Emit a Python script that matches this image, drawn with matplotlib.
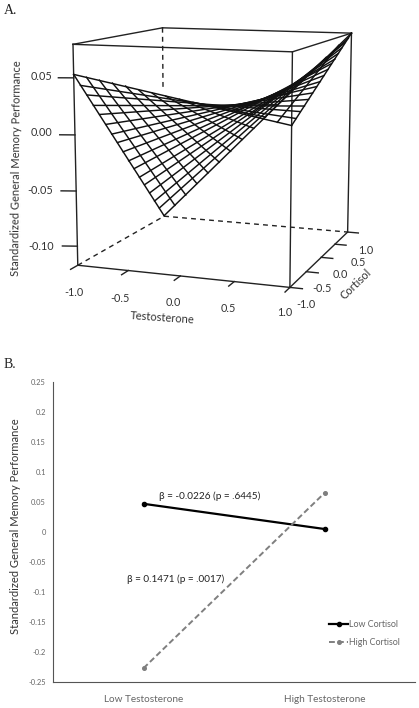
import numpy as np
import matplotlib
matplotlib.use('Agg')
import matplotlib.pyplot as plt

plt.rcParams['font.family'] = ['Lato', 'DejaVu Sans']

# Panel A: surface heights read along the four edges of the mesh
z_front = [0.053, 0.051, 0.049, 0.047, 0.045, 0.042, 0.040, 0.038, 0.036, 0.034, 0.032, 0.030, 0.028, 0.025, 0.023, 0.021, 0.019]
z_back = [-0.117, -0.105, -0.093, -0.080, -0.068, -0.056, -0.044, -0.031, -0.019, -0.007, 0.006, 0.018, 0.030, 0.042, 0.055, 0.067, 0.079]
z_left = [0.053, 0.042, 0.032, 0.021, 0.011, 0.000, -0.011, -0.021, -0.032, -0.043, -0.053, -0.064, -0.074, -0.085, -0.096, -0.106, -0.117]
z_right = [0.019, 0.023, 0.027, 0.030, 0.034, 0.038, 0.042, 0.045, 0.049, 0.053, 0.057, 0.060, 0.064, 0.068, 0.072, 0.075, 0.079]
mesh_pos = np.linspace(-1, 1, 17)

x_ticks_a = [-1.0, -0.5, 0.0, 0.5, 1.0]
z_ticks_a = [0.05, 0.00, -0.05, -0.10]
z_lo, z_hi = -0.1175, 0.079

# Panel B
categories = ['Low Testosterone', 'High Testosterone']
low_cortisol = [0.047, 0.005]
high_cortisol = [-0.227, 0.065]
y_ticks_b = [0.25, 0.2, 0.15, 0.1, 0.05, 0, -0.05, -0.1, -0.15, -0.2, -0.25]

W, H = 419, 708
fig = plt.figure(figsize=(W / 100, H / 100), dpi=100)


def label(px, py, s, size=7.8, rot=0):
    fig.text(px / W, 1 - py / H, s, fontsize=size, color='#333333', rotation=rot,
             ha='center', va='center')


# ---- A: wire surface ----
ax = fig.add_axes([-0.108, 0.508, 1.24, 0.56], projection='3d')
ax.set_proj_type('persp', focal_length=0.55)
ax.view_init(elev=10, azim=-70)
ax.set_box_aspect((0.82, 0.83, 0.82), zoom=0.905)
ax.set_xlim(-1, 1)
ax.set_ylim(-1, 1)
ax.set_zlim(z_lo, z_hi)
ax.set_axis_off()
ax.patch.set_alpha(0)

line = dict(color='#222222', lw=1.0)
# box edges
for a, b in [((-1, -1, z_hi), (1, -1, z_hi)), ((1, -1, z_hi), (1, 1, z_hi)),
             ((1, 1, z_hi), (-1, 1, z_hi)), ((-1, 1, z_hi), (-1, -1, z_hi)),
             ((-1, -1, z_lo), (-1, -1, z_hi)), ((1, -1, z_lo), (1, -1, z_hi)),
             ((1, 1, z_lo), (1, 1, z_hi)), ((-1, -1, z_lo), (1, -1, z_lo)),
             ((1, -1, z_lo), (1, 1, z_lo))]:
    ax.plot(*zip(a, b), **line)
# hidden edges
dash = dict(color='#222222', lw=1.0, dashes=(3.5, 3))
ax.plot([-1, -1], [1, 1], [z_hi, 0.015], **dash)
ax.plot([-1, -1], [-1, 1], [z_lo, z_lo], **dash)
ax.plot([-1, 1], [1, 1], [z_lo, z_lo], **dash)

# mesh lines are straight between opposite edges
mesh = dict(color='#111111', lw=1.05)
for i, t in enumerate(mesh_pos):
    ax.plot([t, t], [-1, 1], [z_front[i], z_back[i]], **mesh)
    ax.plot([-1, 1], [t, t], [z_left[i], z_right[i]], **mesh)

for t in x_ticks_a:
    ax.plot([t, t], [-1, -1.14], [z_lo, z_lo], **line)
    ax.plot([1, 1.11], [t, t], [z_lo, z_lo], **line)
for v in z_ticks_a:
    ax.plot([-1, -1.13], [-1, -1.04], [v, v], **line)

for t, px, py in zip(x_ticks_a, [74, 120, 173, 228, 285], [293, 298, 303, 309, 313]):
    label(px, py, f'{t:.1f}')
for t, px, py in zip(x_ticks_a, [306, 322, 340, 358, 366], [305, 289, 275, 262, 250]):
    label(px, py, f'{t:.1f}')
for v, px, py in zip(z_ticks_a, [41, 41, 40, 41], [76, 133, 191, 247]):
    label(px, py, f'{v:.2f}')
label(162, 318, 'Testosterone', 8, -4)
label(356, 284, 'Cortisol', 8, 44)
label(16, 168, 'Standardized General Memory Performance', 8, 89.5)

# ---- B: line chart ----
ax2 = fig.add_axes([53 / W, 1 - 682 / H, 362 / W, 300 / H])
ax2.plot(categories, low_cortisol, color='black', lw=1.6, marker='o', ms=3, label='Low Cortisol')
ax2.plot(categories, high_cortisol, color='#7f7f7f', lw=1.4, ls=(0, (3, 1.6)), marker='o', ms=2.6,
         label='High Cortisol')
ax2.set_xlim(-0.5, 1.5)
ax2.set_ylim(-0.25, 0.25)
ax2.set_yticks(y_ticks_b)
ax2.set_yticklabels([f'{v:g}' for v in y_ticks_b], fontsize=5.4, color='#666666')
ax2.tick_params(axis='both', length=0)
ax2.tick_params(axis='x', labelsize=7.2, labelcolor='#666666', pad=9)
ax2.tick_params(axis='y', pad=5)
ax2.spines['top'].set_visible(False)
ax2.spines['right'].set_visible(False)
ax2.spines['left'].set_color('#555555')
ax2.spines['bottom'].set_color('#555555')
ax2.set_ylabel('Standardized General Memory Performance', fontsize=8, color='#333333', labelpad=5, y=0.52)
ax2.text(0.086, 0.06, 'β = -0.0226 (p = .6445)', fontsize=7.2, color='#222222', va='center')
ax2.text(-0.09, -0.078, 'β = 0.1471 (p = .0017)', fontsize=7.2, color='#222222', va='center')
ax2.legend(loc='lower right', bbox_to_anchor=(0.959, 0.117), frameon=False, fontsize=6.4, labelcolor='#666666',
           handlelength=2.2, handletextpad=0.1, labelspacing=1.0, borderpad=0, borderaxespad=0)

fig.text(4 / W, 1 - 10 / H, 'A.', family='Liberation Serif', fontsize=10, color='#222222', va='center')
fig.text(4 / W, 1 - 364 / H, 'B.', family='Liberation Serif', fontsize=10, color='#222222', va='center')

fig.savefig('out.png', dpi=100)
